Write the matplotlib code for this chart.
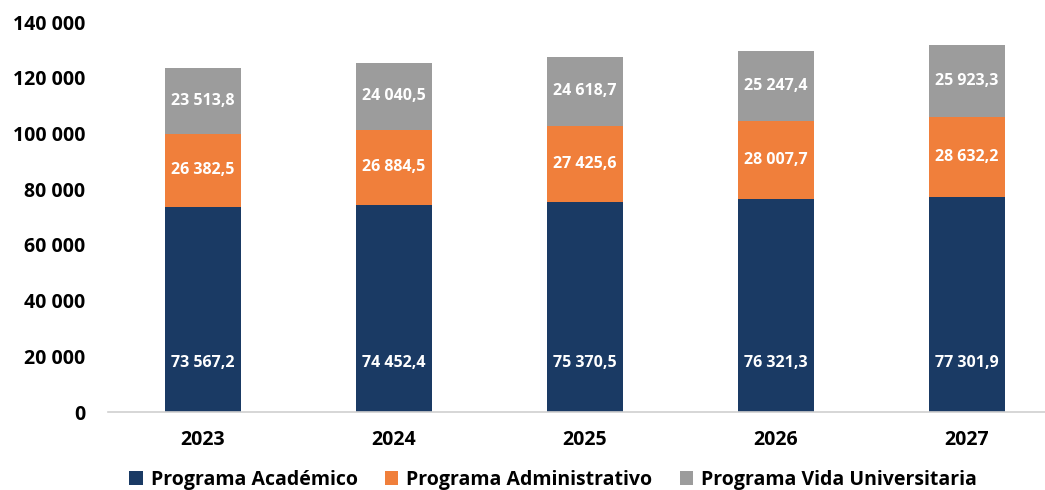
import numpy as np
import matplotlib.pyplot as plt
from matplotlib.ticker import FuncFormatter

# --- data ---
years = ['2023', '2024', '2025', '2026', '2027']
academico = [73567.2, 74452.4, 75370.5, 76321.3, 77301.9]
administrativo = [26382.5, 26884.5, 27425.6, 28007.7, 28632.2]
vida = [23513.8, 24040.5, 24618.7, 25247.4, 25923.3]
series_names = ['Programa Académico', 'Programa Administrativo', 'Programa Vida Universitaria']
colors = ['#1a3a64', '#f07f3b', '#9c9c9c']

plt.rcParams['font.family'] = ['Open Sans', 'DejaVu Sans']
plt.rcParams['font.weight'] = 'bold'


def fmt_num(v, dec=1):
    s = f"{v:,.{dec}f}"
    return s.replace(',', ' ').replace('.', ',')


fig = plt.figure(figsize=(10.45, 4.9), dpi=100)
ax = fig.add_axes([107.5 / 1045, 78 / 490, 955 / 1045, 390 / 490])

x = np.arange(len(years))
w = 0.4
aca = np.array(academico)
adm = np.array(administrativo)
vid = np.array(vida)

ax.bar(x, aca, w, color=colors[0], label=series_names[0], zorder=2)
ax.bar(x, adm, w, bottom=aca, color=colors[1], label=series_names[1], zorder=2)
ax.bar(x, vid, w, bottom=aca + adm, color=colors[2], label=series_names[2], zorder=2)

lbl = dict(ha='center', va='center', color='white', fontsize=11.5, fontweight='bold')
for i in range(len(years)):
    ax.text(x[i], 17500, fmt_num(aca[i]), **lbl)
    ax.text(x[i], aca[i] + adm[i] / 2, fmt_num(adm[i]), **lbl)
    ax.text(x[i], aca[i] + adm[i] + vid[i] / 2, fmt_num(vid[i]), **lbl)

ax.set_xlim(-0.5, len(years) - 0.5)
ax.set_ylim(0, 140000)
ax.set_yticks(np.arange(0, 140001, 20000))
ax.yaxis.set_major_formatter(FuncFormatter(lambda v, p: fmt_num(v, 0)))
ax.set_xticks(x)
ax.set_xticklabels(years)
ax.tick_params(axis='both', length=0, labelsize=14)
ax.tick_params(axis='x', pad=13)
ax.tick_params(axis='y', pad=16)
for s in ['top', 'right', 'left']:
    ax.spines[s].set_visible(False)
ax.spines['bottom'].set_color('#d0d0d0')
ax.spines['bottom'].set_linewidth(1.2)

fig.legend(loc='center', bbox_to_anchor=(553 / 1045, 1 - 480 / 490), ncol=3,
           frameon=False, fontsize=14, handlelength=0.7, handleheight=0.7,
           handletextpad=0.4, columnspacing=1.4)

fig.savefig('out.png', dpi=100)
